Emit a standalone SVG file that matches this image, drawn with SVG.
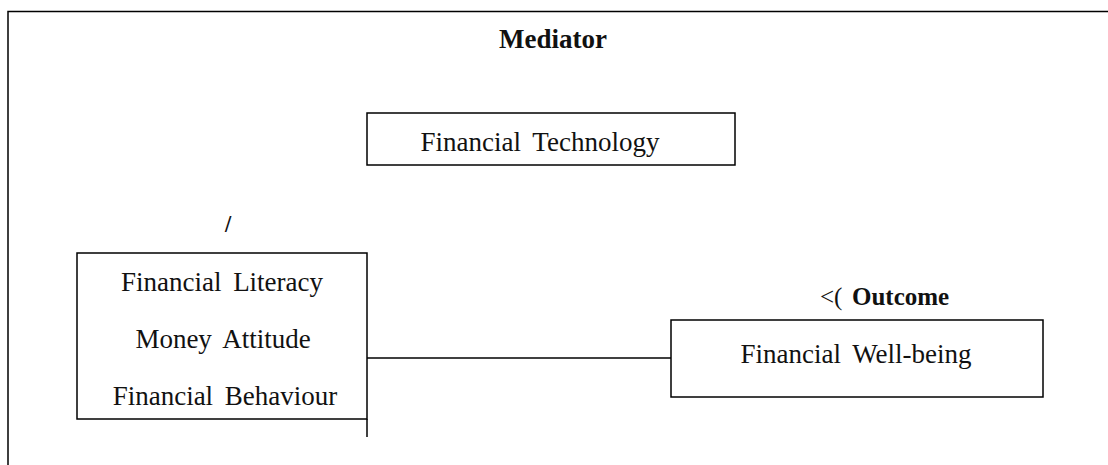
<svg xmlns="http://www.w3.org/2000/svg" width="1108" height="465" viewBox="0 0 1108 465">
<style>
.bx{fill:#fff;stroke:#000;stroke-width:1.5}
.ln{fill:none;stroke:#000;stroke-width:1.5}
</style>
<rect width="1108" height="465" fill="#fff"/>
<g id="frame">
<path class="ln" d="M8 465 V11.5 H1108"/>
</g>
<g id="connectors">
<path class="ln" d="M367 358 H671"/>
<path class="ln" d="M367 419 V437"/>
</g>
<g font-family="Liberation Serif, Times New Roman, serif" fill="#111">
<g id="mediator-label">
<text x="553" y="48" font-size="27" font-weight="bold" text-anchor="middle">Mediator</text>
</g>
<g id="fintech">
<rect class="bx" x="367" y="113" width="368" height="52"/>
<text x="540" y="151" font-size="27" word-spacing="5" text-anchor="middle">Financial Technology</text>
</g>
<g id="slash">
<text x="228" y="230" font-family="DejaVu Sans, sans-serif" font-size="20" text-anchor="middle">/</text>
</g>
<g id="predictors">
<rect class="bx" x="77" y="253" width="290" height="166"/>
<text x="222" y="291" font-size="27" word-spacing="5" text-anchor="middle">Financial Literacy</text>
<text x="223" y="348" font-size="27" word-spacing="5" text-anchor="middle">Money Attitude</text>
<text x="225" y="405" font-size="27" word-spacing="5" text-anchor="middle">Financial Behaviour</text>
</g>
<g id="outcome-label">
<text x="820" y="305" font-size="25">&lt;(</text>
<text x="852" y="305" font-size="25" font-weight="bold">Outcome</text>
</g>
<g id="wellbeing">
<rect class="bx" x="671" y="320" width="372" height="77"/>
<text x="856" y="363" font-size="27" word-spacing="5" text-anchor="middle">Financial Well-being</text>
</g>
</g>
</svg>
